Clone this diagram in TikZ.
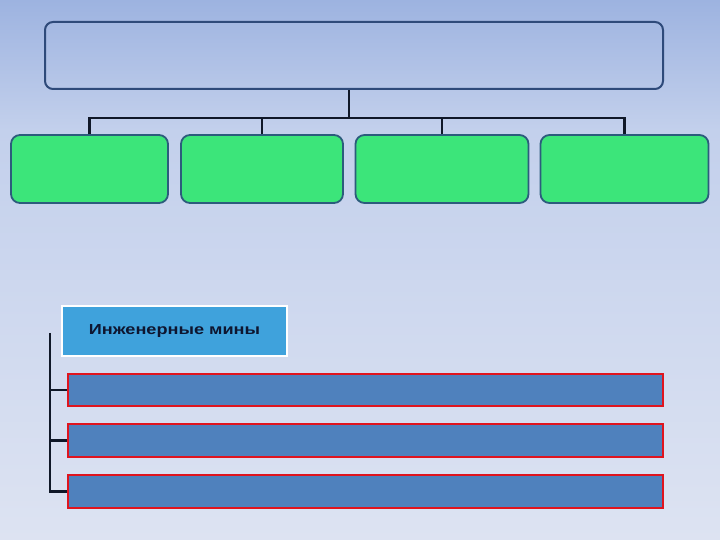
\documentclass[tikz,border=0pt]{standalone}
\usepackage{fontspec}
\setmainfont{Liberation Sans}
\definecolor{bgtop}{HTML}{9DB3E0}
\definecolor{bgmid}{HTML}{C3D0EC}
\definecolor{bgbot}{HTML}{DDE3F2}
\definecolor{topborder}{HTML}{2E4A7A}
\definecolor{greenfill}{HTML}{3CE57A}
\definecolor{greenborder}{HTML}{2C5C7C}
\definecolor{labelfill}{HTML}{3FA2DC}
\definecolor{barfill}{HTML}{4F81BD}
\definecolor{barborder}{HTML}{E0141E}
\definecolor{linecol}{HTML}{101828}
\definecolor{textcol}{HTML}{0E1630}
\tikzset{
  topbox/.style={draw=topborder, line width=2pt, rounded corners=8pt, minimum width=618pt, minimum height=67pt, inner sep=0pt},
  greenbox/.style={draw=greenborder, fill=greenfill, line width=1.8pt, rounded corners=9pt, minimum height=68pt, inner sep=0pt},
  labelbox/.style={draw=white, fill=labelfill, line width=1.5pt, minimum width=225pt, minimum height=50pt, inner sep=0pt, font=\fontsize{14.5pt}{17pt}\selectfont\bfseries, text=textcol},
  barbox/.style={draw=barborder, fill=barfill, line width=1.8pt, minimum width=595pt, minimum height=32pt, inner sep=0pt},
  conn/.style={draw=linecol, line width=2.4pt}
}
\begin{document}
\begin{tikzpicture}[x=1pt,y=1pt]
\shade[top color=bgtop, bottom color=bgmid] (0,410) rectangle (720,540);
\shade[top color=bgmid, bottom color=bgbot] (0,0) rectangle (720,410.5);
\useasboundingbox (0,0) rectangle (720,540);
% top box
\node[topbox] (top) at (354,484.5) {};
% green boxes
\node[greenbox, minimum width=157pt] (g1) at (89.5,371) {};
\node[greenbox, minimum width=162pt] (g2) at (262,371) {};
\node[greenbox, minimum width=173pt] (g3) at (442,371) {};
\node[greenbox, minimum width=168pt] (g4) at (624.5,371) {};
% connectors
\coordinate (hub) at (349,422);
\draw[conn] (hub |- top.south) -- (hub);
\draw[conn] (g1.north) |- (hub);
\draw[conn] (g4.north) |- (hub);
\draw[conn] (g2.north) -- (g2.north |- hub);
\draw[conn] (g3.north) -- (g3.north |- hub);
% label box
\node[labelbox] (lab) at (174.5,209) {\scalebox{1.25}[1]{Инженерные мины}};
% bars
\node[barbox] (b1) at (365.5,150) {};
\node[barbox, minimum height=33pt] (b2) at (365.5,99.5) {};
\node[barbox, minimum height=33pt] (b3) at (365.5,48.5) {};
% bracket
\coordinate (br) at (50,207);
\draw[conn] (br) |- (b3.west);
\draw[conn] (br |- b1.west) -- (b1.west);
\draw[conn] (br |- b2.west) -- (b2.west);
\end{tikzpicture}
\end{document}
